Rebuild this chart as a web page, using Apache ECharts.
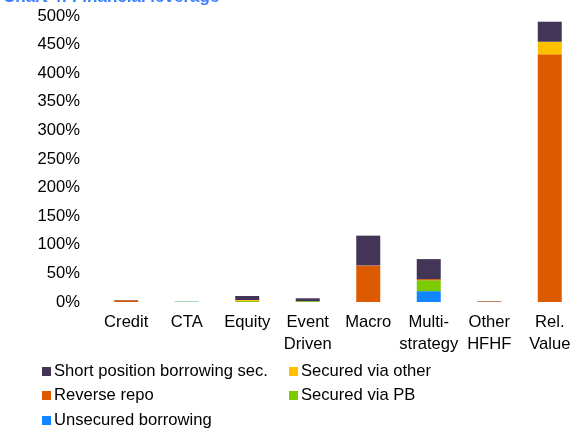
<!DOCTYPE html>
<html><head><meta charset="utf-8">
<script src="https://cdn.jsdelivr.net/npm/echarts@6/dist/echarts.min.js"></script>
<style>html,body{margin:0;padding:0;background:#fff}#c{width:580px;height:428px}</style>
</head><body><div id="c"></div>
<script>
const categories = ['Credit', 'CTA', 'Equity', 'Event\nDriven', 'Macro', 'Multi-\nstrategy', 'Other\nHFHF', 'Rel.\nValue'];
const unsecured  = [0,   0.5, 0,   0,   0,  19, 0,   0];
const securedPB  = [0,   0.5, 1.5, 1.5, 0,  19, 0,   0];
const reverseRepo= [3,   0,   0.5, 0,   64, 2,  1,   433];
const securedOther=[0,   0,   1.5, 0,   0,  0,  0,   22];
const shortPos   = [0.5, 0,   7,   5,   52, 35, 0.5, 35];
const yTicks = [0, 50, 100, 150, 200, 250, 300, 350, 400, 450, 500];

const colors = {
  unsecured: '#1186FF', pb: '#7ACC00', repo: '#DD5A00', other: '#FFC000', short: '#433558'
};
const font = 'Liberation Sans, Arial, sans-serif';
const fs = 16.6;
const chart = echarts.init(document.getElementById('c'));
const mk = (name, data, color) => ({
  name, type: 'bar', stack: 'a', data, barWidth: 24,
  itemStyle: { color }, emphasis: { disabled: true }
});
const legendItem = (name, left, top) => ({
  data: [name], left, top, icon: 'rect', itemWidth: 9, itemHeight: 9,
  selectedMode: false, padding: 0,
  textStyle: { fontFamily: font, fontSize: fs, color: '#000', padding: [0, 0, 0, -2] }
});
chart.setOption({
  animation: false,
  title: {
    text: 'Chart 4: Financial leverage', left: -2, top: -16,
    textStyle: { fontFamily: font, fontSize: 17, fontWeight: 'bold', color: '#3A80FF' }
  },
  grid: { left: 96, right: -3, top: 16, bottom: 126 },
  legend: [
    legendItem('Short position borrowing sec.', 42, 363),
    legendItem('Secured via other', 289, 363),
    legendItem('Reverse repo', 42, 387),
    legendItem('Secured via PB', 289, 387),
    legendItem('Unsecured borrowing', 42, 412)
  ],
  xAxis: {
    type: 'category', data: categories,
    axisLine: { show: false }, axisTick: { show: false },
    axisLabel: { fontFamily: font, fontSize: fs, color: '#000', margin: 9, lineHeight: 22, interval: 0 }
  },
  yAxis: {
    type: 'value', min: 0, max: 500, interval: 50,
    axisLine: { show: false }, axisTick: { show: false }, splitLine: { show: false },
    axisLabel: {
      fontFamily: font, fontSize: fs, color: '#000', margin: 16, padding: [2, 0, 0, 0],
      formatter: v => yTicks.includes(v) ? v + '%' : ''
    }
  },
  series: [
    mk('Unsecured borrowing', unsecured, colors.unsecured),
    mk('Secured via PB', securedPB, colors.pb),
    mk('Reverse repo', reverseRepo, colors.repo),
    mk('Secured via other', securedOther, colors.other),
    mk('Short position borrowing sec.', shortPos, colors.short)
  ]
});
</script></body></html>
